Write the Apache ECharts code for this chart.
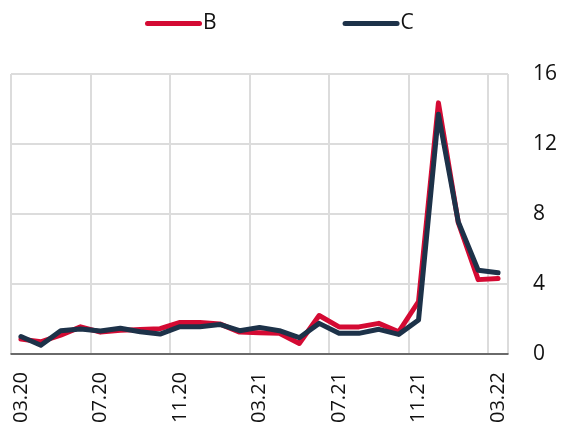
<!DOCTYPE html>
<html>
<head>
<meta charset="utf-8">
<script src="https://cdn.jsdelivr.net/npm/echarts@6/dist/echarts.min.js"></script>
<style>
  html, body { margin: 0; padding: 0; background: #fff; }
  #chart { width: 561px; height: 435px; }
</style>
</head>
<body>
<div id="chart"></div>
<script>
const months = [
  "03.20", "04.20", "05.20", "06.20", "07.20", "08.20", "09.20", "10.20", "11.20", "12.20",
  "01.21", "02.21", "03.21", "04.21", "05.21", "06.21", "07.21", "08.21", "09.21", "10.21",
  "11.21", "12.21", "01.22", "02.22", "03.22"
];
const seriesB = [0.85, 0.7, 1.08, 1.55, 1.25, 1.35, 1.4, 1.45, 1.8, 1.8, 1.72, 1.25, 1.22, 1.18, 0.6, 2.2, 1.55, 1.55, 1.75, 1.27, 3.0, 14.35, 7.5, 4.25, 4.32];
const seriesC = [1.0, 0.5, 1.33, 1.43, 1.31, 1.47, 1.27, 1.14, 1.56, 1.56, 1.69, 1.33, 1.52, 1.33, 0.93, 1.75, 1.18, 1.18, 1.41, 1.12, 1.94, 13.7, 7.55, 4.79, 4.64];
const yTicks = { min: 0, max: 16, step: 4 };

const RED = "#d40a33";
const NAVY = "#1d3249";
const FONT = "Open Sans";
// capsule shaped legend key, same look as a thick round-capped line
const KEY = "path://M2.5,0 L54.5,0 A2.5,2.5 0 0 1 54.5,5 L2.5,5 A2.5,2.5 0 0 1 2.5,0 Z";

const chart = echarts.init(document.getElementById("chart"), null, { renderer: "canvas" });

function line(name, data, color, z) {
  return {
    name,
    type: "line",
    data,
    symbol: "none",
    z,
    lineStyle: { width: 5, color, cap: "round", join: "round" },
    itemStyle: { color },
  };
}

chart.setOption({
  animation: false,
  backgroundColor: "#fff",
  legend: {
    top: 8,
    left: 140,
    itemWidth: 57,
    itemHeight: 5,
    itemGap: 126,
    textStyle: { fontFamily: FONT, fontSize: 21, color: "#111", padding: [0, 0, 0, -4] },
    data: [
      { name: "B", icon: KEY, itemStyle: { color: RED } },
      { name: "C", icon: KEY, itemStyle: { color: NAVY } },
    ],
  },
  grid: { left: 11, right: 53, top: 74, bottom: 81, containLabel: false },
  xAxis: {
    type: "category",
    boundaryGap: true,
    data: months,
    axisLine: { lineStyle: { color: "#444", width: 1.5 } },
    axisTick: { show: false },
    axisLabel: {
      interval: 3,
      rotate: 90,
      margin: 18,
      fontFamily: FONT,
      fontSize: 20,
      color: "#111",
    },
    splitLine: { show: true, interval: 3, lineStyle: { color: "#dcdcdc", width: 2 } },
  },
  yAxis: {
    type: "value",
    position: "right",
    min: yTicks.min,
    max: yTicks.max,
    interval: yTicks.step,
    axisLine: { show: false },
    axisTick: { show: false },
    axisLabel: { margin: 25, fontFamily: FONT, fontSize: 21, color: "#111" },
    splitLine: { lineStyle: { color: "#dcdcdc", width: 2 } },
  },
  series: [
    line("B", seriesB, RED, 2),
    line("C", seriesC, NAVY, 3),
  ],
});
</script>
</body>
</html>
